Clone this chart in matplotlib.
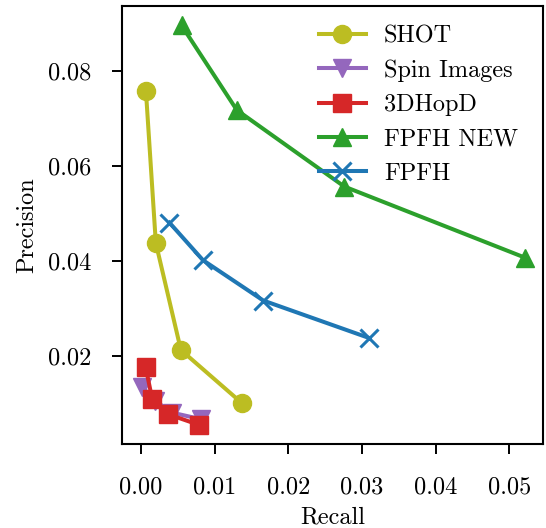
import matplotlib
matplotlib.use("Agg")
import matplotlib.pyplot as plt

plt.rcParams['font.family'] = ['cmr10', 'DejaVu Serif']
plt.rcParams['mathtext.fontset'] = 'cm'
plt.rcParams['axes.formatter.use_mathtext'] = True
plt.rcParams['font.size'] = 17.5

# Precision / recall curves
shot_recall = [0.00065, 0.0020, 0.0054, 0.0137]
shot_prec = [0.0758, 0.0437, 0.0212, 0.0100]

spin_recall = [0.0001, 0.0019, 0.0042, 0.0082]
spin_prec = [0.0135, 0.0105, 0.0080, 0.0066]

hopd_recall = [0.0006, 0.0015, 0.0036, 0.0079]
hopd_prec = [0.0177, 0.0109, 0.0077, 0.0054]

fpfh_new_recall = [0.0055, 0.0130, 0.0276, 0.0522]
fpfh_new_prec = [0.0895, 0.0717, 0.0556, 0.0406]

fpfh_recall = [0.00385, 0.0084, 0.0166, 0.0310]
fpfh_prec = [0.0480, 0.0401, 0.0316, 0.0237]

fig = plt.figure(figsize=(5.46, 5.28), dpi=100)
ax = fig.add_axes([0.2234, 0.1591, 0.7711, 0.8295])

lw = 2.9
ms = 13
ax.plot(shot_recall, shot_prec, '-o', color='#bcbd22', lw=lw, ms=ms, label='SHOT')
ax.plot(spin_recall, spin_prec, '-v', color='#9467bd', lw=lw, ms=ms, label='Spin Images')
ax.plot(hopd_recall, hopd_prec, '-s', color='#d62728', lw=lw, ms=ms, label='3DHopD')
ax.plot(fpfh_new_recall, fpfh_new_prec, '-^', color='#2ca02c', lw=lw, ms=ms, label='FPFH NEW')
ax.plot(fpfh_recall, fpfh_prec, '-x', color='#1f77b4', lw=lw, ms=ms, mew=2.2, label='FPFH')

ax.set_xlim(-0.0026, 0.0546)
ax.set_ylim(0.0014, 0.0936)
ax.set_xticks([0.0, 0.01, 0.02, 0.03, 0.04, 0.05])
ax.set_xticklabels(['0.00', '0.01', '0.02', '0.03', '0.04', '0.05'])
ax.set_yticks([0.02, 0.04, 0.06, 0.08])
ax.set_yticklabels(['0.02', '0.04', '0.06', '0.08'])
ax.tick_params(length=7, width=1.4)
ax.tick_params(axis='x', pad=16)
ax.tick_params(axis='y', pad=15)
for s in ax.spines.values():
    s.set_linewidth(1.5)

ax.set_xlabel('Recall', labelpad=6)
ax.set_ylabel('Precision', labelpad=7)
ax.legend(loc='upper right', bbox_to_anchor=(0.975, 0.99), frameon=False,
          fontsize=17.5, handlelength=1.9, handletextpad=0.75,
          borderaxespad=0.2, labelspacing=0.5)

plt.savefig('out.png', dpi=100)
